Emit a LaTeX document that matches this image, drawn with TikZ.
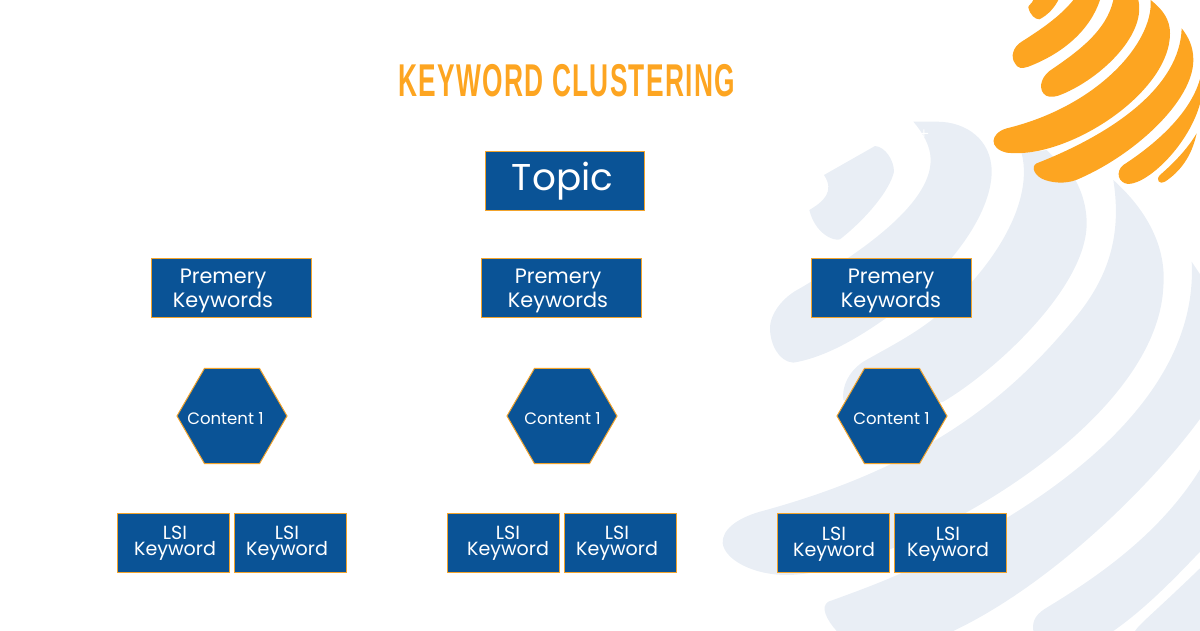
\documentclass[tikz,border=0pt]{standalone}
\usepackage{fontspec}
\usetikzlibrary{shapes.geometric}
\setmainfont{Poppins}
\newfontfamily\titlefont[LetterSpace=5]{Liberation Sans}
\definecolor{kwblue}{HTML}{0A5396}
\definecolor{kworange}{HTML}{FDA521}
\definecolor{kwedge}{HTML}{F2A32B}
\definecolor{kwgrey}{HTML}{E9EEF5}
\tikzset{
  boxbase/.style={draw=kwedge,fill=kwblue,line width=.75pt,inner sep=0pt,outer sep=0pt},
  topicbox/.style={boxbase,rectangle,minimum width=119.4pt,minimum height=43.8pt},
  primebox/.style={boxbase,rectangle,minimum width=119.4pt,minimum height=43.8pt},
  lsibox/.style={boxbase,rectangle,minimum width=83.3pt,minimum height=43.8pt},
  hexbox/.style={boxbase,regular polygon,regular polygon sides=6,minimum size=82.5pt},
  primetext/.style={text=white,align=center,inner sep=0pt,font=\fontsize{15.6}{18.6}\selectfont},
  lsitext/.style={text=white,align=center,inner sep=0pt,font=\fontsize{14.3}{12}\selectfont},
  hextext/.style={text=white,inner sep=0pt,font=\fontsize{12.4}{15}\selectfont},
  blobgrey/.style={fill=kwgrey},
  bloborange/.style={fill=kworange}
}
\begin{document}
\begin{tikzpicture}[x=.75pt,y=-.75pt]
\useasboundingbox (0,0) rectangle (1200,631);
\begin{scope}
\clip (0,0) rectangle (1200,631);
\begin{scope}[shift={(720,0)},x=.25pt,y=-.25pt]
% grey swirl
\fill[blobgrey] (312,525) -- (465,438) .. controls (495,440) and (522,480) .. (522,515) .. controls (510,570) and (440,655) .. (360,718) .. controls (340,725) and (285,700) .. (268,630) .. controls (310,605) and (345,575) .. (312,525) -- cycle;
\fill[blobgrey] (580,365) -- (650,365) .. controls (740,365) and (815,420) .. (815,515) .. controls (815,640) and (690,820) .. (490,960) .. controls (390,1030) and (300,1075) .. (220,1088) .. controls (175,1085) and (150,1030) .. (150,985) .. controls (150,940) and (190,890) .. (240,865) .. controls (400,770) and (632,620) .. (632,480) .. controls (632,440) and (610,400) .. (580,365) -- cycle;
\fill[blobgrey] (905,460) .. controls (945,620) and (800,830) .. (635,960) .. controls (570,1010) and (500,1045) .. (430,1085) .. controls (385,1115) and (365,1160) .. (370,1200) -- (500,1250) -- (670,1205) .. controls (830,1110) and (1100,860) .. (1100,670) .. controls (1100,620) and (1085,570) .. (1060,530) -- (980,450) -- cycle;
\fill[blobgrey] (1180,540) .. controls (1205,700) and (1170,830) .. (1060,960) .. controls (870,1190) and (620,1400) .. (120,1535) .. controls (50,1555) and (5,1590) .. (8,1630) .. controls (15,1680) and (100,1725) .. (200,1725) .. controls (500,1725) and (1310,1300) .. (1330,860) .. controls (1340,740) and (1280,630) .. (1180,540) -- cycle;
\fill[blobgrey] (1415,785) .. controls (1440,1260) and (850,1585) .. (520,1730) .. controls (450,1760) and (380,1785) .. (325,1805) .. controls (300,1820) and (320,1860) .. (350,1893) -- (700,1893) .. controls (1000,1750) and (1300,1450) .. (1445,1250) -- (1445,830) -- cycle;
\fill[blobgrey] (940,1893) .. controls (935,1860) and (950,1840) .. (985,1820) .. controls (1150,1720) and (1330,1590) .. (1445,1400) -- (1445,1650) .. controls (1350,1750) and (1270,1830) .. (1180,1893) -- cycle;
\fill[blobgrey] (1245,1893) .. controls (1260,1870) and (1300,1840) .. (1445,1700) -- (1445,1893) -- cycle;
\fill[white] (610,388) rectangle (613,412) (600,399) rectangle (624,402);
% orange swirl
\fill[bloborange] (940,0) .. controls (935,12) and (925,15) .. (925,22) .. controls (930,45) and (945,58) .. (958,58) .. controls (985,45) and (1005,20) .. (1015,0) -- cycle;
\fill[bloborange] (1060,0) .. controls (1020,50) and (960,90) .. (905,125) .. controls (880,140) and (870,170) .. (885,190) .. controls (892,205) and (905,207) .. (925,200) .. controls (1030,160) and (1110,90) .. (1140,0) -- cycle;
\fill[bloborange] (1180,0) .. controls (1160,90) and (1080,150) .. (1000,205) .. controls (965,225) and (955,260) .. (970,280) .. controls (980,292) and (995,293) .. (1015,287) .. controls (1130,245) and (1280,110) .. (1255,0) -- cycle;
\fill[bloborange] (1292,0) .. controls (1300,130) and (1130,320) .. (860,385) .. controls (810,400) and (805,445) .. (860,458) .. controls (1040,480) and (1350,280) .. (1350,100) .. controls (1350,60) and (1330,30) .. (1292,0) -- cycle;
\fill[bloborange] (1385,85) .. controls (1380,260) and (1180,400) .. (950,490) .. controls (930,500) and (945,530) .. (975,540) .. controls (1010,552) and (1050,550) .. (1080,535) .. controls (1250,460) and (1420,300) .. (1420,180) .. controls (1420,140) and (1405,110) .. (1385,85) -- cycle;
\fill[bloborange] (1445,215) .. controls (1425,330) and (1310,430) .. (1210,495) .. controls (1185,515) and (1195,550) .. (1225,552) .. controls (1290,550) and (1420,420) .. (1445,290) -- cycle;
\fill[bloborange] (1430,400) .. controls (1400,450) and (1360,490) .. (1320,525) .. controls (1305,540) and (1320,555) .. (1335,545) .. controls (1380,515) and (1415,470) .. (1430,400) -- cycle;
\end{scope}
\end{scope}
% title
\node[inner sep=0pt,text=kworange,font=\titlefont\bfseries\fontsize{34.5}{36}\selectfont,xscale=.572] (title) at (566.5,80.5) {KEYWORD CLUSTERING};
% topic
\node[topicbox] (topic) at (565,181) {};
\node[text=white,inner sep=0pt,font=\fontsize{28}{30}\selectfont] (topictext) at (562.5,181) {Topic};
% primary row
\node[primebox] (p1) at (231.5,288) {};
\node[primebox] (p2) at (561.5,288) {};
\node[primebox] (p3) at (891.5,288) {};
\node[primetext] (p1t) at (223,291) {Premery\\Keywords};
\node[primetext] (p2t) at (558,291) {Premery\\Keywords};
\node[primetext] (p3t) at (891,291) {Premery\\Keywords};
% hexagons
\node[hexbox] (h1) at (232,416) {};
\node[hexbox] (h2) at (562,416) {};
\node[hexbox] (h3) at (892,416) {};
\node[hextext] (h1t) at (225.5,419) {Content 1};
\node[hextext] (h2t) at (562.5,419) {Content 1};
\node[hextext] (h3t) at (891.5,419) {Content 1};
% LSI row
\node[lsibox] (l1) at (173.5,543) {};
\node[lsibox] (l2) at (290.5,543) {};
\node[lsibox] (l3) at (503.5,543) {};
\node[lsibox] (l4) at (620.5,543) {};
\node[lsibox] (l5) at (833.5,543) {};
\node[lsibox] (l6) at (950.5,543) {};
\node[lsitext] (l1t) at (175,543) {LSI\\Keyword};
\node[lsitext] (l2t) at (287,543) {LSI\\Keyword};
\node[lsitext] (l3t) at (508,543) {LSI\\Keyword};
\node[lsitext] (l4t) at (617,543) {LSI\\Keyword};
\node[lsitext] (l5t) at (834,544) {LSI\\Keyword};
\node[lsitext] (l6t) at (948,544) {LSI\\Keyword};
\end{tikzpicture}
\end{document}
